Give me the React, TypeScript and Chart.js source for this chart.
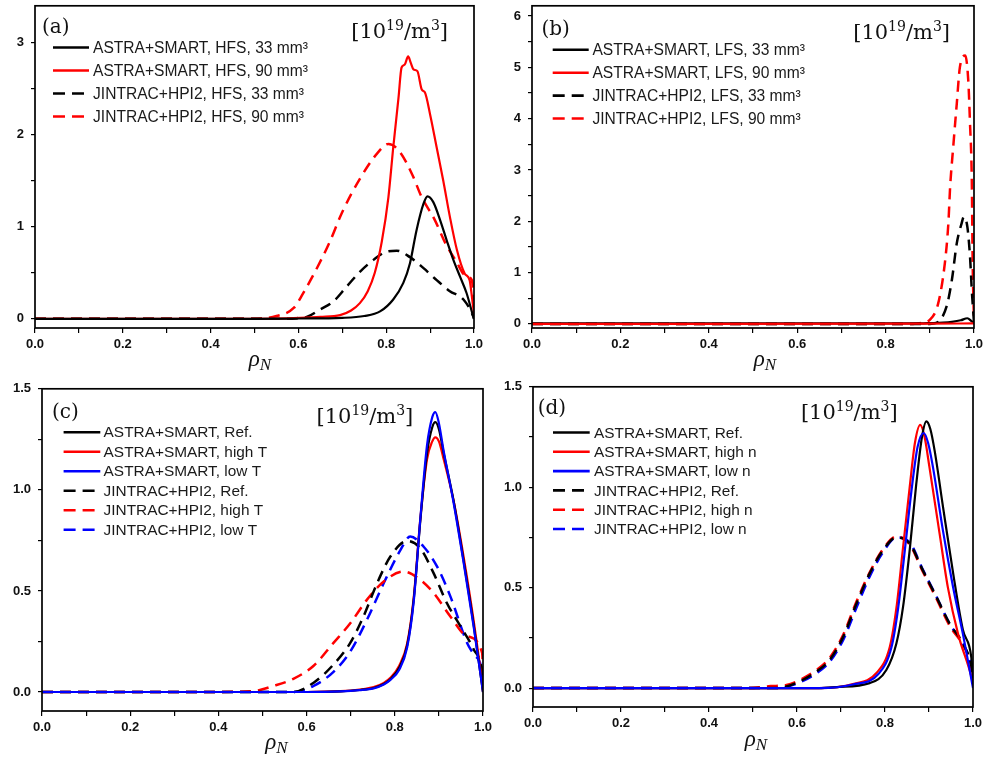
import React, { useEffect, useRef } from 'react';
import { Chart, registerables } from 'chart.js';

Chart.register(...registerables);

// ---------- axis ticks ----------
const xTickValues = [0, 0.1, 0.2, 0.3, 0.4, 0.5, 0.6, 0.7, 0.8, 0.9, 1.0];
const yTicksA = [0, 0.5, 1, 1.5, 2, 2.5, 3];
const yTicksB = [0, 0.5, 1, 1.5, 2, 2.5, 3, 3.5, 4, 4.5, 5, 5.5, 6];
const yTicksCD = [0, 0.25, 0.5, 0.75, 1, 1.25, 1.5];

// ---------- panel (a) ----------
const aAstra33X = [0, 0.5, 0.6, 0.7, 0.75, 0.786, 0.816, 0.839, 0.854, 0.869, 0.885, 0.894, 0.907, 0.923, 0.938, 0.953, 0.968, 0.983, 0.998, 1.0];
const aAstra33Y = [0, 0, 0.003, 0.01, 0.03, 0.08, 0.21, 0.39, 0.6, 0.96, 1.25, 1.33, 1.27, 1.07, 0.85, 0.64, 0.46, 0.28, 0.03, 0];
const aAstra90X = [0, 0.5, 0.604, 0.65, 0.695, 0.72, 0.74, 0.758, 0.774, 0.79, 0.805, 0.816, 0.828, 0.835, 0.842, 0.85, 0.856, 0.862, 0.871, 0.881, 0.888, 0.9, 0.915, 0.93, 0.945, 0.961, 0.979, 0.99, 0.995, 1.0];
const aAstra90Y = [0, 0, 0.01, 0.02, 0.04, 0.09, 0.17, 0.3, 0.5, 0.84, 1.32, 1.86, 2.4, 2.73, 2.76, 2.85, 2.78, 2.71, 2.69, 2.49, 2.46, 2.22, 1.86, 1.5, 1.11, 0.75, 0.49, 0.42, 0.25, 0.05];
const aJin33X = [0, 0.58, 0.6, 0.619, 0.649, 0.68, 0.71, 0.74, 0.771, 0.801, 0.824, 0.854, 0.885, 0.915, 0.945, 0.976, 0.998, 1.0];
const aJin33Y = [0, 0, 0.01, 0.02, 0.1, 0.19, 0.35, 0.51, 0.64, 0.73, 0.74, 0.67, 0.55, 0.42, 0.3, 0.21, 0.03, 0];
const aJin90X = [0, 0.497, 0.55, 0.59, 0.61, 0.64, 0.67, 0.7, 0.74, 0.78, 0.805, 0.83, 0.86, 0.88, 0.91, 0.935, 0.96, 0.98, 0.995, 1.0];
const aJin90Y = [0, 0, 0.03, 0.12, 0.27, 0.53, 0.82, 1.16, 1.52, 1.8, 1.9, 1.82, 1.56, 1.33, 1.08, 0.82, 0.62, 0.47, 0.42, 0.2];

// ---------- panel (b) ----------
const bAstra33X = [0, 0.88, 0.9, 0.93, 0.95, 0.97, 0.985, 0.995, 1.0];
const bAstra33Y = [0.01, 0.01, 0.015, 0.025, 0.04, 0.07, 0.11, 0.05, 0.02];
const bAstra90X = [0, 0.9, 1.0];
const bAstra90Y = [0, 0.005, 0.01];
const bJin33X = [0, 0.9, 0.915, 0.938, 0.95, 0.961, 0.972, 0.977, 0.985, 0.991, 0.995, 1.0];
const bJin33Y = [0, 0, 0.02, 0.34, 0.86, 1.57, 1.96, 2.09, 1.89, 1.31, 0.66, 0.02];
const bJin90X = [0, 0.862, 0.88, 0.9, 0.919, 0.934, 0.942, 0.946, 0.953, 0.961, 0.968, 0.98, 0.987, 0.991, 0.995, 0.997, 1.0];
const bJin90Y = [0, 0, 0.02, 0.08, 0.4, 1.18, 1.96, 2.67, 3.45, 4.29, 5.0, 5.23, 4.75, 3.9, 2.8, 1.18, 0.05];

// ---------- panel (c) ----------
const cAstraX = [0, 0.6, 0.677, 0.72, 0.752, 0.775, 0.79, 0.81, 0.828, 0.843, 0.858, 0.873, 0.885, 0.892, 0.9, 0.911, 0.933, 0.956, 0.979, 0.998, 1.0];
const cAstraRefY = [0, 0, 0.003, 0.01, 0.02, 0.04, 0.063, 0.12, 0.23, 0.46, 0.85, 1.18, 1.31, 1.335, 1.3, 1.18, 0.95, 0.65, 0.33, 0.03, 0];
const cAstraHighY = [0, 0, 0.004, 0.012, 0.024, 0.045, 0.07, 0.13, 0.24, 0.47, 0.86, 1.15, 1.24, 1.26, 1.24, 1.15, 0.95, 0.67, 0.35, 0.04, 0];
const cAstraLowY = [0, 0, 0.003, 0.009, 0.018, 0.037, 0.06, 0.11, 0.22, 0.45, 0.86, 1.22, 1.36, 1.385, 1.33, 1.19, 0.94, 0.64, 0.32, 0.03, 0];
const cJinRefX = [0, 0.57, 0.616, 0.661, 0.699, 0.729, 0.76, 0.79, 0.828, 0.858, 0.888, 0.918, 0.949, 0.979, 0.998, 1.0];
const cJinRefY = [0, 0, 0.046, 0.136, 0.243, 0.374, 0.539, 0.67, 0.747, 0.71, 0.588, 0.44, 0.325, 0.21, 0.1, 0.05];
const cJinHighX = [0, 0.382, 0.48, 0.525, 0.57, 0.616, 0.661, 0.699, 0.737, 0.775, 0.82, 0.858, 0.888, 0.926, 0.964, 0.998, 1.0];
const cJinHighY = [0, 0, 0.005, 0.03, 0.065, 0.13, 0.243, 0.34, 0.457, 0.547, 0.596, 0.555, 0.49, 0.374, 0.276, 0.194, 0.1];
const cJinLowX = [0, 0.57, 0.616, 0.661, 0.699, 0.737, 0.775, 0.813, 0.835, 0.865, 0.896, 0.926, 0.964, 0.979, 0.998, 1.0];
const cJinLowY = [0, 0, 0.03, 0.1, 0.2, 0.358, 0.539, 0.703, 0.769, 0.72, 0.62, 0.473, 0.243, 0.186, 0.1, 0.05];

// ---------- panel (d) ----------
const dAstraRefX = [0, 0.65, 0.69, 0.765, 0.803, 0.826, 0.841, 0.856, 0.871, 0.884, 0.894, 0.903, 0.913, 0.932, 0.955, 0.977, 0.996, 1.0];
const dAstraRefY = [0, 0, 0.005, 0.025, 0.09, 0.223, 0.404, 0.685, 1.015, 1.25, 1.328, 1.29, 1.18, 0.9, 0.57, 0.29, 0.156, 0.05];
const dAstraHighX = [0, 0.65, 0.727, 0.78, 0.811, 0.826, 0.841, 0.856, 0.868, 0.88, 0.89, 0.901, 0.924, 0.943, 0.966, 0.996, 1.0];
const dAstraHighY = [0, 0, 0.02, 0.074, 0.206, 0.4, 0.7, 0.998, 1.22, 1.31, 1.25, 1.1, 0.77, 0.5, 0.27, 0.06, 0.02];
const dAstraLowX = [0, 0.65, 0.727, 0.785, 0.815, 0.83, 0.845, 0.86, 0.874, 0.888, 0.898, 0.909, 0.932, 0.955, 0.977, 1.0];
const dAstraLowY = [0, 0, 0.018, 0.07, 0.206, 0.4, 0.685, 0.98, 1.2, 1.27, 1.22, 1.1, 0.78, 0.5, 0.27, 0.0];
const dJinRefX = [0, 0.55, 0.576, 0.606, 0.644, 0.674, 0.705, 0.735, 0.765, 0.795, 0.826, 0.856, 0.886, 0.917, 0.947, 0.977, 0.995, 1.0];
const dJinRefY = [0, 0, 0.008, 0.033, 0.082, 0.14, 0.255, 0.42, 0.57, 0.685, 0.75, 0.72, 0.586, 0.453, 0.32, 0.223, 0.124, 0.06];
const dJinHighX = [0, 0.492, 0.54, 0.576, 0.606, 0.644, 0.674, 0.705, 0.735, 0.765, 0.795, 0.826, 0.856, 0.886, 0.917, 0.947, 0.977, 0.995, 1.0];
const dJinHighY = [0, 0, 0.01, 0.015, 0.04, 0.09, 0.15, 0.265, 0.43, 0.575, 0.69, 0.755, 0.715, 0.58, 0.445, 0.31, 0.215, 0.12, 0.05];
const dJinLowY = [0, 0, 0.006, 0.028, 0.074, 0.13, 0.24, 0.4, 0.555, 0.675, 0.75, 0.725, 0.59, 0.455, 0.32, 0.22, 0.12, 0.05];

const BLACK = '#000000';
const RED = '#ff0000';
const BLUE = '#0000ff';

const mk = (label, xs, ys, color, dashed, order) => ({ label, xs, ys, color, dashed, order });

const panels = [
  {
    key: 'a',
    area: { L: 35, T: 5, R: 474, B: 328 },
    yMin: -0.1, yMax: 3.4, yTicks: yTicksA,
    yLabel: (v) => (Math.abs(v - Math.round(v)) < 1e-6 ? String(Math.round(v)) : ''),
    tag: '(a)', tagPos: { dx: 7, dy: 22 }, unitPos: { dxR: 26, dy: 26 },
    legend: { x1: 18, x2: 54, tx: 58, y0: 41.7, dy: 23, size: 15.6 },
    rho: { dx: 5.5, dy: 38 },
    series: [
      mk('ASTRA+SMART, HFS, 33 mm³', aAstra33X, aAstra33Y, BLACK, false, 0),
      mk('ASTRA+SMART, HFS, 90 mm³', aAstra90X, aAstra90Y, RED, false, 1),
      mk('JINTRAC+HPI2, HFS, 33 mm³', aJin33X, aJin33Y, BLACK, true, 2),
      mk('JINTRAC+HPI2, HFS, 90 mm³', aJin90X, aJin90Y, RED, true, 3),
    ],
  },
  {
    key: 'b',
    area: { L: 532.3, T: 5, R: 974, B: 328 },
    yMin: -0.08, yMax: 6.2, yTicks: yTicksB,
    yLabel: (v) => (Math.abs(v - Math.round(v)) < 1e-6 ? String(Math.round(v)) : ''),
    tag: '(b)', tagPos: { dx: 9.4, dy: 24 }, unitPos: { dxR: 24, dy: 26.7 },
    legend: { x1: 20.7, x2: 56.7, tx: 60.4, y0: 44, dy: 22.9, size: 15.6 },
    rho: { dx: 12, dy: 38 },
    series: [
      mk('ASTRA+SMART, LFS, 33 mm³', bAstra33X, bAstra33Y, BLACK, false, 1),
      mk('ASTRA+SMART, LFS, 90 mm³', bAstra90X, bAstra90Y, RED, false, 0),
      mk('JINTRAC+HPI2, LFS, 33 mm³', bJin33X, bJin33Y, BLACK, true, 2),
      mk('JINTRAC+HPI2, LFS, 90 mm³', bJin90X, bJin90Y, RED, true, 3),
    ],
  },
  {
    key: 'c',
    area: { L: 41.7, T: 388.3, R: 482.7, B: 711.7 },
    yMin: -0.094, yMax: 1.5, yTicks: yTicksCD,
    yLabel: (v) => (Math.abs(v * 2 - Math.round(v * 2)) < 1e-6 ? v.toFixed(1) : ''),
    tag: '(c)', tagPos: { dx: 10, dy: 24 }, unitPos: { dxR: 69.7, dy: 27.7 },
    legend: { x1: 21.6, x2: 58.3, tx: 61.6, y0: 43.4, dy: 19.5, size: 15.4 },
    rho: { dx: 14, dy: 38 },
    series: [
      mk('ASTRA+SMART, Ref.', cAstraX, cAstraRefY, BLACK, false, 1),
      mk('ASTRA+SMART, high T', cAstraX, cAstraHighY, RED, false, 2),
      mk('ASTRA+SMART, low T', cAstraX, cAstraLowY, BLUE, false, 0),
      mk('JINTRAC+HPI2, Ref.', cJinRefX, cJinRefY, BLACK, true, 3),
      mk('JINTRAC+HPI2, high T', cJinHighX, cJinHighY, RED, true, 4),
      mk('JINTRAC+HPI2, low T', cJinLowX, cJinLowY, BLUE, true, 5),
    ],
  },
  {
    key: 'd',
    area: { L: 533.3, T: 386, R: 973.3, B: 707.3 },
    yMin: -0.094, yMax: 1.5, yTicks: yTicksCD,
    yLabel: (v) => (Math.abs(v * 2 - Math.round(v * 2)) < 1e-6 ? v.toFixed(1) : ''),
    tag: '(d)', tagPos: { dx: 4.7, dy: 22 }, unitPos: { dxR: 75.3, dy: 26 },
    legend: { x1: 20, x2: 56.7, tx: 61, y0: 45.7, dy: 19.3, size: 15.4 },
    rho: { dx: 3, dy: 39 },
    series: [
      mk('ASTRA+SMART, Ref.', dAstraRefX, dAstraRefY, BLACK, false, 1),
      mk('ASTRA+SMART, high n', dAstraHighX, dAstraHighY, RED, false, 2),
      mk('ASTRA+SMART, low n', dAstraLowX, dAstraLowY, BLUE, false, 0),
      mk('JINTRAC+HPI2, Ref.', dJinRefX, dJinRefY, BLACK, true, 3),
      mk('JINTRAC+HPI2, high n', dJinHighX, dJinHighY, RED, true, 4),
      mk('JINTRAC+HPI2, low n', dJinRefX, dJinLowY, BLUE, true, 5),
    ],
  },
];

const PAD_L = 48;
const PAD_T = 14;
const PAD_R = 18;
const PAD_B = 58;

const decorPlugin = {
  id: 'panelDecor',
  afterDraw(chart, _args, opts) {
    const { ctx, chartArea: ca } = chart;
    if (!opts || !opts.tag) return;
    ctx.save();
    // frame
    ctx.setLineDash([]);
    ctx.strokeStyle = '#000';
    ctx.lineWidth = 1.7;
    ctx.strokeRect(ca.left, ca.top, ca.right - ca.left, ca.bottom - ca.top);

    // panel tag
    ctx.fillStyle = '#111';
    ctx.font = '20px "DejaVu Serif", serif';
    ctx.textAlign = 'left';
    ctx.textBaseline = 'middle';
    ctx.fillText(opts.tag, ca.left + opts.tagPos.dx, ca.top + opts.tagPos.dy);

    // unit label [10^19/m^3]
    const mainF = '21px "DejaVu Serif", serif';
    const supF = '14px "DejaVu Serif", serif';
    const parts = [
      ['[10', mainF, 0],
      ['19', supF, -8],
      ['/m', mainF, 0],
      ['3', supF, -8],
      [']', mainF, 0],
    ];
    ctx.textBaseline = 'alphabetic';
    let total = 0;
    const widths = parts.map(([t, f]) => {
      ctx.font = f;
      const w = ctx.measureText(t).width;
      total += w;
      return w;
    });
    let ux = ca.right - opts.unitPos.dxR - total;
    const ub = ca.top + opts.unitPos.dy + 6.5;
    parts.forEach(([t, f, off], i) => {
      ctx.font = f;
      ctx.fillText(t, ux, ub + off);
      ux += widths[i];
    });

    // legend
    const lg = opts.legend;
    chart.data.datasets.forEach((ds, i) => {
      const y = ca.top + lg.y0 + i * lg.dy;
      ctx.beginPath();
      ctx.setLineDash(ds.borderDash && ds.borderDash.length ? [12, 7] : []);
      ctx.lineWidth = 2.6;
      ctx.strokeStyle = ds.borderColor;
      ctx.moveTo(ca.left + lg.x1, y);
      ctx.lineTo(ca.left + lg.x2, y);
      ctx.stroke();
      ctx.setLineDash([]);
      ctx.fillStyle = '#1a1a1a';
      ctx.font = lg.size + 'px "Liberation Sans", Arial, sans-serif';
      ctx.textAlign = 'left';
      ctx.textBaseline = 'middle';
      ctx.fillText(ds.label, ca.left + lg.tx, y + 1);
    });

    // x-axis title rho_N
    const rhoF = 'italic 23px "Liberation Serif", "DejaVu Serif", serif';
    const nF = 'italic 17px "Liberation Serif", "DejaVu Serif", serif';
    ctx.font = rhoF;
    const w1 = ctx.measureText('ρ').width;
    ctx.font = nF;
    const w2 = ctx.measureText('N').width;
    const cx = (ca.left + ca.right) / 2 + opts.rho.dx;
    const by = ca.bottom + opts.rho.dy;
    const rx = cx - (w1 + w2) / 2;
    ctx.fillStyle = '#111';
    ctx.textAlign = 'left';
    ctx.textBaseline = 'alphabetic';
    ctx.font = rhoF;
    ctx.fillText('ρ', rx, by);
    ctx.font = nF;
    ctx.fillText('N', rx + w1, by + 4);
    ctx.restore();
  },
};

const tickFont = { family: '"Liberation Sans", Arial, sans-serif', size: 13, weight: 'bold' };

function Panel({ p }) {
  const ref = useRef(null);
  const { L, T, R, B } = p.area;
  const left = L - PAD_L;
  const top = T - PAD_T;
  const width = Math.round(R - L + PAD_L + PAD_R);
  const height = Math.round(B - T + PAD_T + PAD_B);

  useEffect(() => {
    const datasets = p.series.map((s) => ({
      label: s.label,
      data: s.xs.map((x, i) => ({ x, y: s.ys[i] })),
      borderColor: s.color,
      backgroundColor: s.color,
      borderWidth: s.dashed ? 2.5 : 2.2,
      borderDash: s.dashed ? [11, 7] : [],
      pointRadius: 0,
      fill: false,
      cubicInterpolationMode: 'monotone',
      order: s.order,
    }));
    const chart = new Chart(ref.current, {
      type: 'line',
      data: { datasets },
      options: {
        animation: false,
        responsive: false,
        devicePixelRatio: 1,
        layout: { padding: { left: 0, top: PAD_T, right: PAD_R, bottom: 0 } },
        plugins: {
          legend: { display: false },
          tooltip: { enabled: false },
          panelDecor: {
            tag: p.tag,
            tagPos: p.tagPos,
            unitPos: p.unitPos,
            legend: p.legend,
            rho: p.rho,
          },
        },
        scales: {
          x: {
            type: 'linear',
            min: 0,
            max: 1,
            afterFit: (s) => { s.height = PAD_B; },
            afterBuildTicks: (s) => { s.ticks = xTickValues.map((v) => ({ value: v })); },
            ticks: {
              autoSkip: false,
              maxRotation: 0,
              padding: 4,
              color: '#111',
              font: tickFont,
              callback: (v) => (Math.round(v * 10) % 2 === 0 ? Number(v).toFixed(1) : ''),
            },
            grid: { drawOnChartArea: false, drawTicks: true, tickLength: 5, color: '#000', lineWidth: 1.2 },
            border: { display: false },
          },
          y: {
            type: 'linear',
            min: p.yMin,
            max: p.yMax,
            afterFit: (s) => { s.width = PAD_L; },
            afterBuildTicks: (s) => { s.ticks = p.yTicks.map((v) => ({ value: v })); },
            ticks: {
              autoSkip: false,
              padding: 7,
              color: '#111',
              font: tickFont,
              callback: (v) => p.yLabel(Number(v)),
            },
            grid: { drawOnChartArea: false, drawTicks: true, tickLength: 4, color: '#000', lineWidth: 1.2 },
            border: { display: false },
          },
        },
      },
      plugins: [decorPlugin],
    });
    return () => chart.destroy();
  }, []);

  return (
    <canvas
      ref={ref}
      width={width}
      height={height}
      style={{ position: 'absolute', left, top, width, height }}
    />
  );
}

export default function App() {
  return (
    <div
      style={{
        position: 'absolute',
        left: 0,
        top: 0,
        width: 983,
        height: 760,
        overflow: 'hidden',
        background: '#fff',
      }}
    >
      {panels.map((p) => (
        <Panel key={p.key} p={p} />
      ))}
    </div>
  );
}
